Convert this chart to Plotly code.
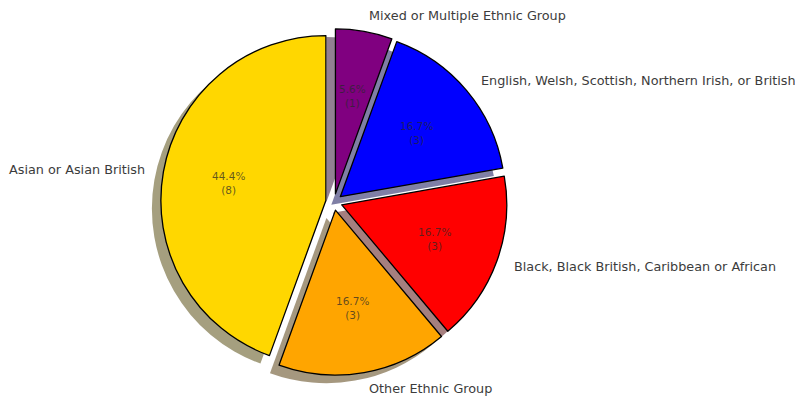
import math
import plotly.graph_objects as go

# Survey counts by ethnic group (pie order, counter-clockwise from 12 o'clock)
groups = [
    "Asian or Asian British",
    "Other Ethnic Group",
    "Black, Black British, Caribbean or African",
    "English, Welsh, Scottish, Northern Irish, or British",
    "Mixed or Multiple Ethnic Group",
]
counts = [8, 3, 3, 3, 1]
colors = ["#FFD700", "#FFA500", "#FF0000", "#0000FF", "#800080"]
explode = [0.05, 0.05, 0.05, 0.05, 0.05]

W, H = 795, 398
CX, CY, R = 334.0, 202.0, 165.0          # pie centre and radius in pixels
SHADOW_DX, SHADOW_DY = -9.0, 8.0         # shadow offset in pixels (left, down)
LABEL_DIST, PCT_DIST = 1.1, 0.6

total = sum(counts)
max_pull = max(explode)
box = 2 * R * (1 + max_pull)             # plotly shrinks the radius by the pull

# plotly's counter-clockwise layout ends the first wedge at `rotation`,
# so rotate back by that wedge's angle to make it start at 12 o'clock
rotation = -360.0 * counts[0] / total


def domain(cx, cy):
    half_w = 200.0
    return dict(
        x=[(cx - half_w) / W, (cx + half_w) / W],
        y=[1 - (cy + box / 2) / H, 1 - (cy - box / 2) / H],
    )


def shadow_color(hex_color):
    r, g, b = (int(hex_color[i:i + 2], 16) for i in (1, 3, 5))
    return f"rgba({0.3 * r:.0f},{0.3 * g:.0f},{0.3 * b:.0f},0.5)"


fig = go.Figure()

# drop shadow: the same pie, darkened and shifted
fig.add_trace(go.Pie(
    labels=groups, values=counts, sort=False, direction="counterclockwise",
    rotation=rotation, pull=explode, textinfo="none", hoverinfo="skip",
    marker=dict(colors=[shadow_color(c) for c in colors], line=dict(width=0)),
    domain=domain(CX + SHADOW_DX, CY + SHADOW_DY), showlegend=False,
))

fig.add_trace(go.Pie(
    labels=groups, values=counts, sort=False, direction="counterclockwise",
    rotation=rotation, pull=explode, textinfo="none", hoverinfo="label+percent",
    marker=dict(colors=colors, line=dict(color="black", width=1.3)),
    domain=domain(CX, CY), showlegend=False,
))

# category labels and percentage labels placed along each wedge's mid-angle
annotations = []
theta = 90.0
for name, n, ex in zip(groups, counts, explode):
    span = 360.0 * n / total
    mid = math.radians(theta + span / 2)
    theta += span
    ox, oy = ex * math.cos(mid), ex * math.sin(mid)

    lx = ox + LABEL_DIST * math.cos(mid)
    ly = oy + LABEL_DIST * math.sin(mid)
    annotations.append(dict(
        x=(CX + lx * R) / W, y=1 - (CY - ly * R) / H, xref="paper", yref="paper",
        text=name, showarrow=False, xanchor="left" if lx > 0 else "right",
        yanchor="middle", font=dict(family="DejaVu Sans", size=12.8, color="#3c3c3c"),
    ))

    px = ox + PCT_DIST * math.cos(mid)
    py = oy + PCT_DIST * math.sin(mid)
    pct = 100.0 * n / total
    annotations.append(dict(
        x=(CX + px * R) / W, y=1 - (CY - py * R) / H, xref="paper", yref="paper",
        text=f"{pct:.1f}%<br>({n})", showarrow=False, xanchor="center",
        yanchor="middle", align="center",
        font=dict(family="DejaVu Sans", size=10.5, color="rgba(40,40,40,0.72)"),
    ))

fig.update_layout(
    width=W, height=H, margin=dict(l=0, r=0, t=0, b=0),
    paper_bgcolor="white", plot_bgcolor="white",
    annotations=annotations, showlegend=False,
)

fig.write_html("out.html")
